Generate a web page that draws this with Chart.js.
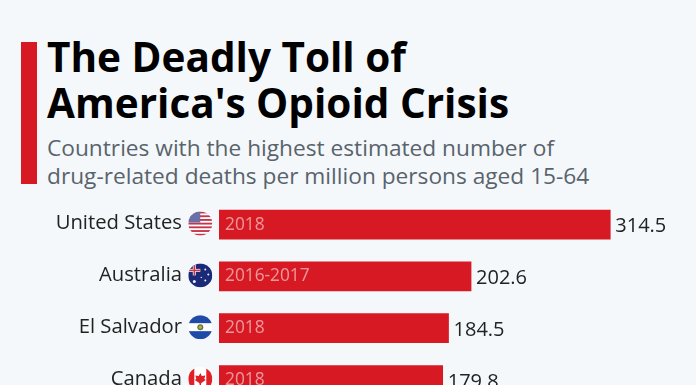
<!DOCTYPE html>
<html>
<head>
<meta charset="utf-8">
<script src="https://cdn.jsdelivr.net/npm/chart.js@4"></script>
<style>
html,body{margin:0;padding:0;background:#f4f8fb;overflow:hidden}
#wrap{position:relative;width:696px;height:385px;overflow:hidden}
#bar{position:absolute;left:21px;top:42px;width:16px;height:142px;background:#d71923}
.t{position:absolute;left:47px;font-family:"Open Sans",sans-serif;white-space:nowrap}
.h{font-size:40.5px;font-weight:700;color:#000;line-height:46px}
.s{font-size:22.7px;color:#59636c;line-height:29px}
#c{position:absolute;left:0;top:0}
</style>
</head>
<body>
<div id="wrap">
<div id="bar"></div>
<div class="t h" style="top:34px">The Deadly Toll of</div>
<div class="t h" style="top:80px">America's Opioid Crisis</div>
<div class="t s" style="top:133px">Countries with the highest estimated number of</div>
<div class="t s" style="top:161px">drug-related deaths per million persons aged 15-64</div>
<canvas id="c" width="696" height="455"></canvas>
</div>
<script>
const countries = ['United States', 'Australia', 'El Salvador', 'Canada'];
const deaths = [314.5, 202.6, 184.5, 179.8];
const years = ['2018', '2016-2017', '2018', '2018'];

function star(ctx, x, y, r) {
    ctx.beginPath();
    ctx.arc(x, y, r, 0, Math.PI * 2);
    ctx.fill();
}

// flags are just small round icons next to the axis labels
const flags = {
    id: 'flags',
    afterDatasetsDraw(chart) {
        const ctx = chart.ctx;
        const y = chart.scales.y;
        countries.forEach((name, i) => {
            const cy = y.getPixelForValue(i) - 1;
            const cx = 200.3;
            ctx.save();
            ctx.beginPath();
            ctx.arc(cx, cy, 12, 0, Math.PI * 2);
            ctx.clip();
            ctx.fillStyle = ['#fff', '#1b2a78', '#fff', '#fff'][i];
            ctx.fillRect(cx - 12, cy - 12, 24, 24);
            if (i == 0) {
                ctx.fillStyle = '#c8324a';
                for (let k = 0; k < 7; k++) ctx.fillRect(cx - 12, cy - 12 + k * 3.7, 24, 1.85);
                ctx.fillStyle = '#6b6fa8';
                ctx.fillRect(cx - 12, cy - 12, 12, 11);
            }
            if (i == 1) {
                ctx.fillStyle = '#e6e6ee';
                ctx.fillRect(cx - 12, cy - 6.5, 12, 3);
                ctx.fillRect(cx - 7.5, cy - 12, 3, 12);
                ctx.fillStyle = '#d8323f';
                ctx.fillRect(cx - 12, cy - 5.7, 12, 1.4);
                ctx.fillRect(cx - 6.7, cy - 12, 1.4, 12);
                ctx.fillStyle = '#eeeef5';
                [[5, -6, 1], [8, -1, 1], [5, 5, 1], [1, 2, .7], [-6, 6, 1.5]].forEach(p => star(ctx, cx + p[0], cy + p[1], p[2]));
            }
            if (i == 2) {
                ctx.fillStyle = '#1f4aa8';
                ctx.fillRect(cx - 12, cy - 12, 24, 8);
                ctx.fillRect(cx - 12, cy + 4, 24, 8);
                ctx.fillStyle = '#5d7a45';
                star(ctx, cx, cy, 3);
                ctx.fillStyle = '#c9a93a';
                star(ctx, cx, cy, 1.6);
            }
            if (i == 3) {
                ctx.fillStyle = '#e01f26';
                ctx.fillRect(cx - 12, cy - 12, 6, 24);
                ctx.fillRect(cx + 6, cy - 12, 6, 24);
                ctx.beginPath();
                ctx.moveTo(cx, cy - 6);
                ctx.lineTo(cx + 1.5, cy - 3);
                ctx.lineTo(cx + 5, cy - 3.5);
                ctx.lineTo(cx + 4, cy);
                ctx.lineTo(cx + 5.5, cy + 1);
                ctx.lineTo(cx + 1, cy + 4);
                ctx.lineTo(cx + 0.6, cy + 6);
                ctx.lineTo(cx - 0.6, cy + 6);
                ctx.lineTo(cx - 1, cy + 4);
                ctx.lineTo(cx - 5.5, cy + 1);
                ctx.lineTo(cx - 4, cy);
                ctx.lineTo(cx - 5, cy - 3.5);
                ctx.lineTo(cx - 1.5, cy - 3);
                ctx.closePath();
                ctx.fill();
            }
            ctx.restore();
        });
    }
};

// value at the end of the bar, year inside the bar
const barText = {
    id: 'barText',
    afterDatasetsDraw(chart) {
        const ctx = chart.ctx;
        const meta = chart.getDatasetMeta(0);
        ctx.save();
        ctx.textBaseline = 'middle';
        meta.data.forEach((bar, i) => {
            ctx.font = '20px "Open Sans"';
            ctx.fillStyle = '#222';
            ctx.textAlign = 'left';
            ctx.fillText(deaths[i].toFixed(1), bar.x + 5, bar.y + 2);
            ctx.font = '17.3px "Open Sans"';
            ctx.fillStyle = 'rgba(255,255,255,0.55)';
            ctx.fillText(years[i], chart.chartArea.left + 6, bar.y);
        });
        ctx.restore();
    }
};

new Chart(document.getElementById('c').getContext('2d'), {
    type: 'bar',
    data: {
        labels: countries,
        datasets: [{
            data: deaths,
            backgroundColor: '#d71923',
            barThickness: 29,
            borderSkipped: false
        }]
    },
    options: {
        indexAxis: 'y',
        responsive: false,
        animation: false,
        layout: { padding: { top: 198.7, bottom: 0, left: 0, right: 0 } },
        plugins: { legend: { display: false }, tooltip: { enabled: false } },
        scales: {
            x: {
                display: false,
                min: 0,
                max: 383.4
            },
            y: {
                afterFit(scale) { scale.width = 219; },
                grid: { display: false, drawTicks: false },
                border: { display: false },
                ticks: {
                    color: '#222',
                    padding: 37,
                    labelOffset: -1,
                    font: { family: 'Open Sans', size: 20.25 }
                }
            }
        }
    },
    plugins: [flags, barText]
});
</script>
</body>
</html>
